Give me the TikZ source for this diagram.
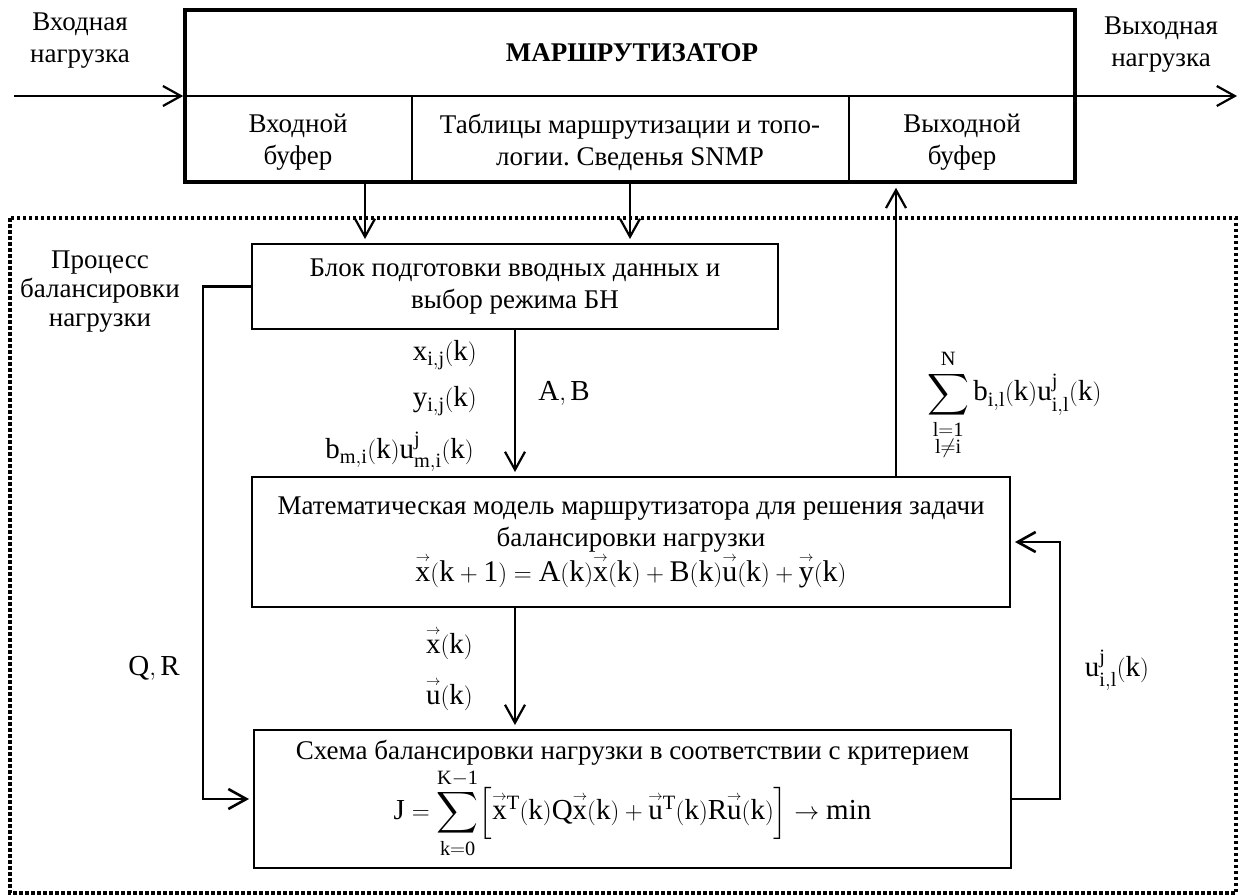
\documentclass[tikz,border=0pt]{standalone}
\usepackage{amsmath,amssymb}
\usepackage{fontspec}
\setmainfont{Liberation Serif}
\usetikzlibrary{arrows.meta}

\newcommand\vecr[1]{{\overset{\scriptscriptstyle\rightarrow}{#1}}}
\tikzset{
  txt/.style={font=\fontsize{27}{32}\selectfont, inner sep=0pt},
  mth/.style={font=\fontsize{29}{34}\selectfont, inner sep=0pt},
  ml/.style={txt, align=center},
  blk/.style={ml, draw, line width=2pt},
  arr/.style={line width=2.2pt, -{Straight Barb[length=18pt,width=20pt]}, shorten >=4pt},
  fb/.style={arr, line width=2.6pt},
}

\begin{document}
\frenchspacing
\begin{tikzpicture}[x=1pt,y=-1pt]
\useasboundingbox (0,0) rectangle (1238,895);

\node[draw, line width=3.6pt, minimum width=890pt, minimum height=172pt] (router) at (630,96) {};
\draw[line width=1.6pt] (router.west) -- (router.east);
\draw[line width=1.3pt] (412,96) -- (412,182) (849,96) -- (849,182);
\node[txt, font=\bfseries\fontsize{27}{32}\selectfont] (title) at (632,53) {МАРШРУТИЗАТОР};
\node[ml] (inbuf) at (298,142) {Входной\\буфер};
\node[ml] (tables) at (630,142) {Таблицы маршрутизации и топо-\\логии. Сведенья SNMP};
\node[ml] (outbuf) at (962,142) {Выходной\\буфер};
\node[ml] (inlab) at (80,41) {Входная\\нагрузка};
\node[ml] (outlab) at (1161,45) {Выходная\\нагрузка};
\coordinate (inl) at (14,96);
\coordinate (outr) at (1237,96);

\draw[line width=3.5pt, dash pattern=on 3.5pt off 2.5pt] (10,218) rectangle (1236,893);
\node[ml, font=\fontsize{27}{29}\selectfont] (proc) at (100,292) {Процесс\\балансировки\\нагрузки};

\node[blk, minimum width=526pt, minimum height=85pt] (prep) at (515,286.5) {Блок подготовки вводных данных и\\выбор режима БН};
\node[blk, minimum width=758pt, minimum height=130pt] (model) at (631,542) {Математическая модель маршрутизатора для решения задачи\\балансировки нагрузки\\ \fontsize{30}{33}\selectfont $\mathrm{\vecr{x}(k+1)=A(k)\vecr{x}(k)+B(k)\vecr{u}(k)+\vecr{y}(k)}$};
\node[blk, minimum width=757pt, minimum height=138pt] (scheme) at (632.5,799) {Схема балансировки нагрузки в соответствии с критерием\\[2pt] \fontsize{29}{33}\selectfont $\displaystyle\mathrm{J=\sum\limits_{k=0}^{K-1}\Bigl[\vecr{x}{}^{T}(k)Q\vecr{x}(k)+\vecr{u}{}^{T}(k)R\vecr{u}(k)\Bigr]\to\min}$};

\node[mth, anchor=east] (xij) at (477,355) {$\mathrm{x_{i,j}(k)}$};
\node[mth, anchor=east] (yij) at (477,401) {$\mathrm{y_{i,j}(k)}$};
\node[mth, anchor=east] (bu) at (474,452) {$\mathrm{b_{m,i}(k)u^{j}_{m,i}(k)}$};
\node[mth] (ab) at (564,393) {$\mathrm{A,B}$};
\node[mth, anchor=west] (sumlab) at (927,405) {$\displaystyle\mathrm{\sum\limits_{\substack{\mathrm{l=1}\\ \mathrm{l\neq i}}}^{N}b_{i,l}(k)u^{j}_{i,l}(k)}$};
\node[mth, anchor=east] (xk) at (473,643) {$\mathrm{\vecr{x}(k)}$};
\node[mth, anchor=east] (uk) at (473,694) {$\mathrm{\vecr{u}(k)}$};
\node[mth] (qr) at (154,668) {$\mathrm{Q,R}$};
\node[mth] (ulab) at (1117,670) {$\mathrm{u^{j}_{i,l}(k)}$};

\coordinate (cin) at (365,0);
\coordinate (cout) at (896,0);
\draw[arr, shorten >=0pt] (inl) -- (router.west);
\draw[arr, shorten >=0pt] (router.east) -- (outr);
\draw[arr] (router.south -| cin) -- (prep.north -| cin);
\draw[arr] (router.south -| tables) -- (prep.north -| tables);
\draw[arr] (prep.south) -- (model.north -| prep);
\draw[arr] (model.south -| prep) -- (scheme.north -| prep);
\draw[arr] (model.north -| cout) -- (router.south -| cout);
\draw[fb] (prep.west) -- ++(-48,0) |- (scheme.west);
\draw[fb] (scheme.east) -- ++(48,0) |- (model.east);
\end{tikzpicture}
\end{document}
